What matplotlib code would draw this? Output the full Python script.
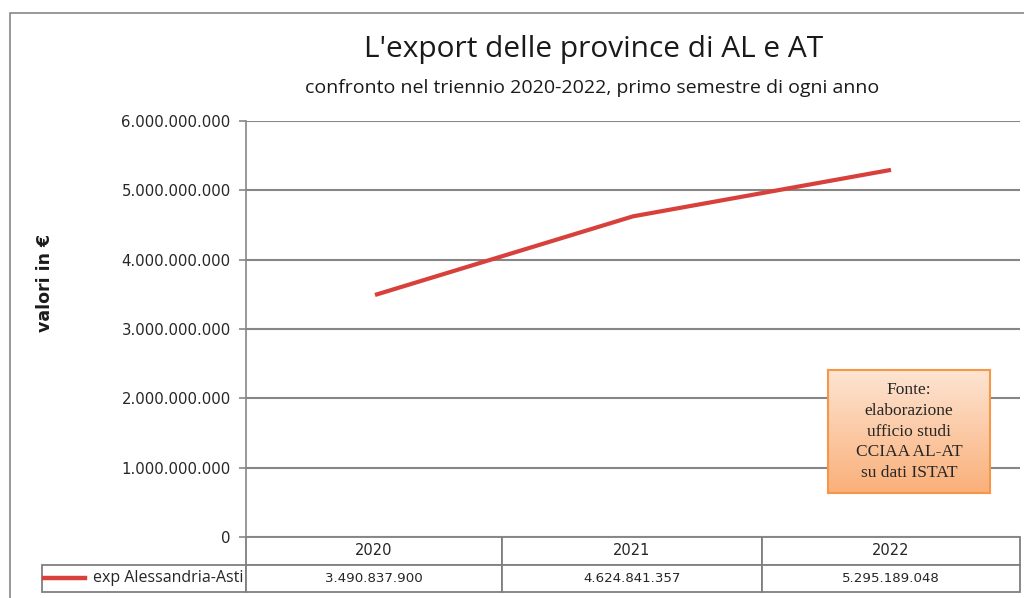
import numpy as np
import matplotlib
matplotlib.use("Agg")
import matplotlib.pyplot as plt
from matplotlib.ticker import FuncFormatter
from matplotlib.patches import Rectangle
from matplotlib.lines import Line2D

# data
years = ["2020", "2021", "2022"]
export_al_at = [3490837900, 4624841357, 5295189048]
series_name = "exp Alessandria-Asti"
y_ticks = [0, 1e9, 2e9, 3e9, 4e9, 5e9, 6e9]

plt.rcParams['font.family'] = ['DejaVu Sans']
narrow = ['Open Sans', 'DejaVu Sans']

W, H = 1024, 598
fig = plt.figure(figsize=(W / 100, H / 100), dpi=100)

def fx(px):
    return px / W

def fy(py):
    return 1 - py / H

def fmt(v):
    return f"{v:,.0f}".replace(',', '.')

# outer chart border
fig.add_artist(Rectangle((fx(10), fy(640)), fx(1100), fy(13) - fy(640),
                         transform=fig.transFigure, fill=False,
                         edgecolor='#868686', lw=1.2))

ax = fig.add_axes([fx(246), fy(537), fx(1020) - fx(246), fy(121) - fy(537)])
x = np.arange(len(years))
ax.plot(x, export_al_at, color='#d8403b', lw=3.0, solid_capstyle='butt')
ax.set_xlim(-0.5, len(years) - 0.5)
ax.set_ylim(0, 6e9)
ax.set_yticks(y_ticks)
ax.yaxis.set_major_formatter(FuncFormatter(lambda v, p: fmt(v)))
ax.tick_params(axis='y', length=5, width=1.2, color='#868686', pad=6,
               labelsize=10.7, labelcolor='#262626')
ax.set_xticks([])
ax.grid(axis='y', color='#868686', lw=1.5)
for s in ['top', 'right', 'bottom']:
    ax.spines[s].set_visible(False)
ax.spines['left'].set_color('#868686')
ax.spines['left'].set_linewidth(1.2)

# data table under the axis
aw = 1020 - 246
ah = 537 - 121
rows = [[""] + years, [series_name] + [fmt(v) for v in export_al_at]]
tbl = ax.table(cellText=rows, colWidths=[204, 256, 260, 258], cellLoc='center',
               bbox=[(42 - 246) / aw, (537 - 592) / ah, (1020 - 42) / aw, 55 / ah])
tbl.auto_set_font_size(False)
tbl.set_fontsize(9.6)
for (r, c), cell in tbl.get_celld().items():
    cell.set_edgecolor('#7f7f7f')
    cell.set_linewidth(1.3)
    cell.get_text().set_color('#262626')
    if r == 0:
        cell.get_text().set_fontsize(10.5)
    if c == 0:
        cell.get_text().set_ha('right')
        cell._loc = 'right'
        cell.PAD = 0.01
        cell.get_text().set_fontfamily(narrow)
        cell.get_text().set_fontsize(11.5)
tbl[0, 0].visible_edges = ''
# legend key in the row label cell
ax.add_line(Line2D([(44 - 246) / aw, (85 - 246) / aw], [(537 - 578) / ah] * 2,
                   transform=ax.transAxes, color='#d8403b', lw=3.2, clip_on=False))

# titles
fig.text(fx(594), fy(50), "L'export delle province di AL e AT", ha='center', va='center',
         fontsize=21.5, color='#1a1a1a', family=narrow)
fig.text(fx(592), fy(88), "confronto nel triennio 2020-2022, primo semestre di ogni anno",
         ha='center', va='center', fontsize=14, color='#1a1a1a', family=narrow)
fig.text(fx(45), fy(283), "valori in €", rotation=90, ha='center', va='center',
         fontsize=12.5, fontweight='bold', color='#1a1a1a')

# source box with gradient
fig.add_artist(Rectangle((fx(831), fy(497)), fx(990) - fx(828), fy(370) - fy(493),
                         transform=fig.transFigure, color='#c8c8c8', alpha=0.45, zorder=0))
bx = fig.add_axes([fx(828), fy(493), fx(990) - fx(828), fy(370) - fy(493)])
grad = np.linspace(0, 1, 100).reshape(-1, 1)
cmap = matplotlib.colors.LinearSegmentedColormap.from_list('o', ['#fde4d2', '#fab07a'])
bx.imshow(grad, cmap=cmap, aspect='auto', extent=[0, 1, 0, 1], origin='upper')
bx.set_xticks([])
bx.set_yticks([])
for s in bx.spines.values():
    s.set_color('#f79646')
    s.set_linewidth(1.5)
bx.text(0.5, 0.5, "Fonte:\nelaborazione\nufficio studi\nCCIAA AL-AT\nsu dati ISTAT",
        ha='center', va='center', fontsize=12.5, family='Liberation Serif',
        color='#262626', linespacing=1.38, transform=bx.transAxes)

fig.savefig("out.png", dpi=100)
